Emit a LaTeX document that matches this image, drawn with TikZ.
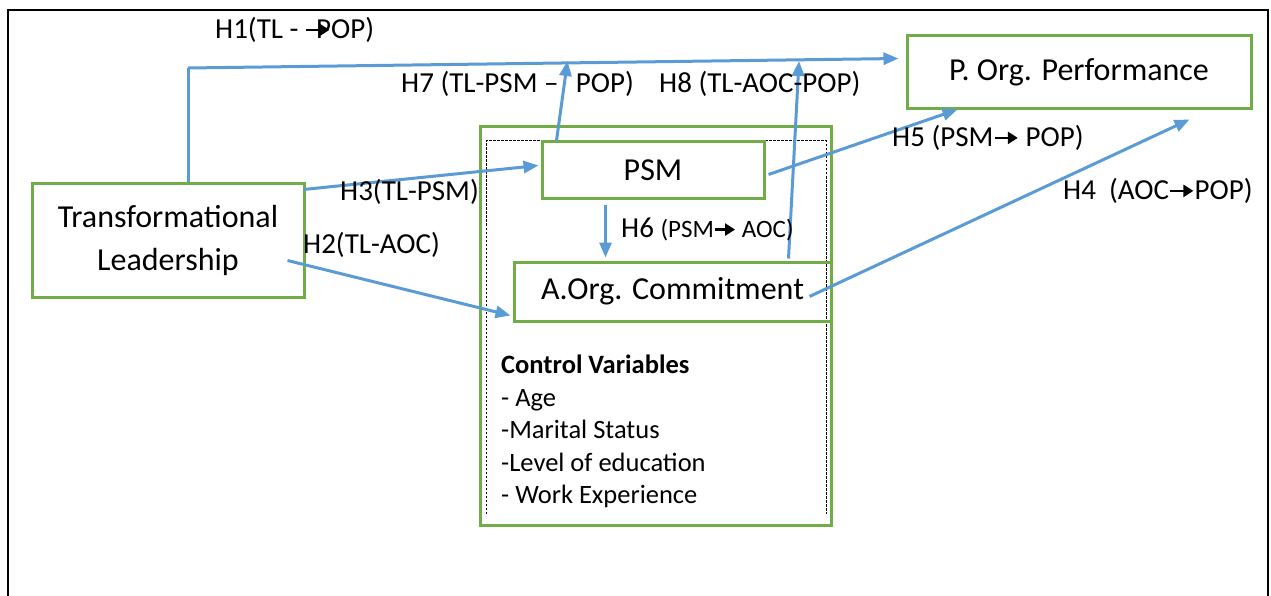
\documentclass[tikz,border=0pt]{standalone}
\usepackage{fontspec}
\setmainfont{Carlito}
\usetikzlibrary{arrows.meta,calc}

\definecolor{boxgreen}{HTML}{70AD47}
\definecolor{linkblue}{HTML}{5B9BD5}

% small black arrow used inside the hypothesis labels
\newcommand\hyparrow{\tikz[x=1cm,y=1cm,baseline=0pt]\draw[black,line width=2.4pt,-{Triangle[length=10pt,width=12pt]}] (0,0.3em) -- (0.8em,0.3em);}

\tikzset{
  construct/.style={draw=boxgreen, line width=3pt, rectangle, align=center,
    inner sep=0pt, font=\fontsize{32}{40}\selectfont},
  link/.style={draw=linkblue, line width=3pt, -{Triangle[length=15pt,width=12pt]}},
  plainlink/.style={draw=linkblue, line width=3pt},
  hyp/.style={anchor=west, inner sep=0pt, font=\fontsize{29}{35}\selectfont},
}

\begin{document}
\begin{tikzpicture}[x=1pt,y=-1pt]
\useasboundingbox (0,0) rectangle (1271,596);

% outer frame, open at the bottom
\draw[line width=2.6pt] (8,596) -- (8,10) -- (1268,10) -- (1268,596);

% framed block around mediators and control variables
\node[draw=boxgreen, line width=3pt, minimum width=351pt, minimum height=398pt] (ctrl) at (655.5,326) {};
\draw[dashed, line width=1pt, dash pattern=on 2.5pt off 1.5pt] (486,514) -- (486,141) -- (826,141) -- (826,514);

% constructs
\node[construct, minimum width=272pt, minimum height=113pt] (tl) at (168,240.5) {Transformational\\[3pt]Leadership};
\node[construct, minimum width=222pt, minimum height=57pt] (psm) at (653,170.5) {PSM};
\node[construct, minimum width=317pt, minimum height=59pt] (aoc) at (672.5,291.5) {A.Org. Commitment};
\node[construct, minimum width=344pt, minimum height=73pt] (pop) at (1079,72.5) {P. Org. Performance};

% control variables
\node[anchor=north west, inner sep=0pt, align=left, font=\fontsize{26.5}{32.5}\selectfont] (cv) at (501,355)
  {\textbf{Control Variables}\\- Age\\-Marital Status\\-Level of education\\- Work Experience};

% hypothesis paths
\coordinate (h1bend) at (188,68);
\draw[plainlink] (tl.north -| h1bend) -- (h1bend);
\draw[link] (h1bend) -- ($(pop.west)+(-7,-14)$);
\draw[link] ($(psm.north west)+(16,0)$) -- (567.5,61);
\draw[link] ($(aoc.north west)+(276,-2)$) -- (799,61);
\draw[link] ($(tl.north east)+(-2,7)$) -- ($(psm.west)+(-2,-5)$);
\draw[link] ($(tl.east)+(-18,20)$) -- ($(aoc.west)+(-2,24)$);
\draw[link] ($(psm.south west)+(65,5)$) -- ($(aoc.north west)+(93,-3)$);
\draw[link] ($(psm.east)+(3,4)$) -- ($(pop.south west)+(52,-1)$);
\draw[link] ($(aoc.east)+(-23,5)$) -- ($(pop.south east)+(-63,9)$);

% hypothesis labels
\node[hyp] (h1) at (215,30) {H1(TL - \hyparrow\kern-0.5em POP)};
\node[hyp] (h7) at (401,84) {H7 (TL-PSM --\hspace{0.6em}POP)};
\node[hyp] (h8) at (659,84) {H8 (TL-AOC-POP)};
\node[hyp] (h3) at (340,192) {H3(TL-PSM)};
\node[hyp] (h2) at (303,245) {H2(TL-AOC)};
\node[hyp] (h6) at (621,229) {H6 {\fontsize{25}{30}\selectfont(PSM\hyparrow\ AOC)}};
\node[hyp] (h5) at (892,138) {H5 (PSM\hyparrow\ POP)};
\node[hyp] (h4) at (1063,191) {H4\ \ (AOC\hyparrow POP)};
\end{tikzpicture}
\end{document}
